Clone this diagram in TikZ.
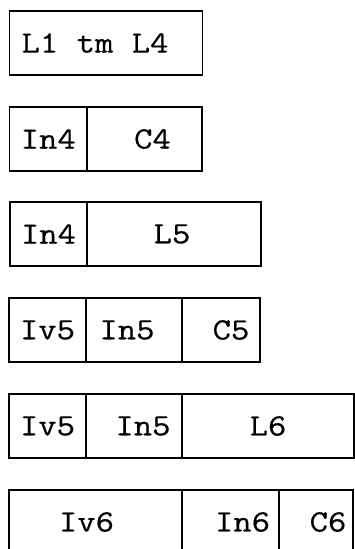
\documentclass[tikz,border=0pt]{standalone}
\usepackage{fontspec}
\setmonofont{Latin Modern Mono}[FakeStretch=1.15, FakeBold=0.5]
\usepackage{tikz}
\usetikzlibrary{positioning}

\begin{document}
\begin{tikzpicture}[x=1pt, y=1pt,
    cell/.style={draw=black, line width=1.3pt, rectangle, outer sep=0pt, inner sep=0pt, minimum height=64pt, anchor=north west},
    every label/.style={font=\ttfamily\fontsize{31}{31}\selectfont, inner sep=0pt}, ]

    \useasboundingbox (0,0) rectangle (355,-549);
    \clip (0,0) rectangle (355,-549);

    % row 1
    \node[cell, minimum width=193pt, label={[xshift=-11pt]center:L1 tm L4}] (r1a) at (9.5,-11) {};

    % row 2
    \node[cell, minimum width=77.5pt, label=center:In4] (r2a) at (9.5,-107) {};
    \node[cell, minimum width=115pt, label={[xshift=8pt]center:C4}] (r2b) at (r2a.north east) {};

    % row 3
    \node[cell, minimum width=77pt, label=center:In4] (r3a) at (10,-202) {};
    \node[cell, minimum width=174pt, label={[xshift=-2pt]center:L5}] (r3b) at (r3a.north east) {};

    % row 4
    \node[cell, minimum width=77pt, label=center:Iv5] (r4a) at (9,-298) {};
    \node[cell, minimum width=96pt, label={[xshift=-7pt]center:In5}] (r4b) at (r4a.north east) {};
    \node[cell, minimum width=78pt, label={[xshift=10pt]center:C5}] (r4c) at (r4b.north east) {};

    % row 5
    \node[cell, minimum width=77pt, label=center:Iv5] (r5a) at (9,-394) {};
    \node[cell, minimum width=96pt, label={[xshift=9pt]center:In5}] (r5b) at (r5a.north east) {};
    \node[cell, minimum width=172pt, label=center:L6] (r5c) at (r5b.north east) {};

    % row 6
    \node[cell, minimum width=173pt, label={[xshift=-9pt]center:Iv6}] (r6a) at (9,-490) {};
    \node[cell, minimum width=97pt, label={[xshift=12pt]center:In6}] (r6b) at (r6a.north east) {};
    \node[cell, minimum width=74pt, label={[xshift=12pt]center:C6}] (r6c) at (r6b.north east) {};

\end{tikzpicture}
\end{document}
